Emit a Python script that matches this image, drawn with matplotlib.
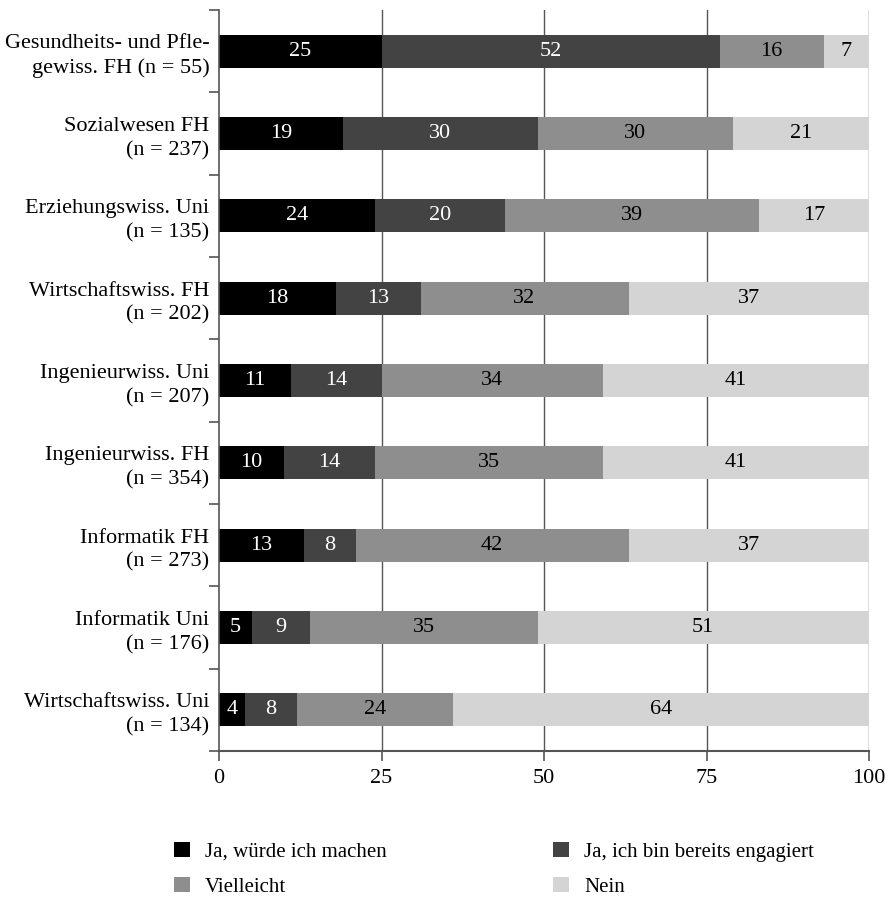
import matplotlib
matplotlib.use("Agg")
import matplotlib.pyplot as plt
import numpy as np
from matplotlib.patches import Patch
from matplotlib.ticker import FixedLocator

categories = [
    "Gesundheits- und Pfle-\ngewiss. FH (n = 55)",
    "Sozialwesen FH\n(n = 237)",
    "Erziehungswiss. Uni\n(n = 135)",
    "Wirtschaftswiss. FH\n(n = 202)",
    "Ingenieurwiss. Uni\n(n = 207)",
    "Ingenieurwiss. FH\n(n = 354)",
    "Informatik FH\n(n = 273)",
    "Informatik Uni\n(n = 176)",
    "Wirtschaftswiss. Uni\n(n = 134)",
]
series_names = ["Ja, würde ich machen", "Ja, ich bin bereits engagiert", "Vielleicht", "Nein"]
ja_machen = [25, 19, 24, 18, 11, 10, 13, 5, 4]
ja_engagiert = [52, 30, 20, 13, 14, 14, 8, 9, 8]
vielleicht = [16, 30, 39, 32, 34, 35, 42, 35, 24]
nein = [7, 21, 17, 37, 41, 41, 37, 51, 64]
x_ticks = [0, 25, 50, 75, 100]

colors = ["#000000", "#434343", "#8e8e8e", "#d4d4d4"]
text_colors = ["white", "white", "black", "black"]

plt.rcParams['font.family'] = ['Liberation Serif', 'DejaVu Serif']
fs = 16
fs_leg = 15

fig = plt.figure(figsize=(8.89, 8.99), dpi=100)
ax = fig.add_axes([219/889, 1 - 751/899, 650/889, 741/899])

n = len(categories)
y = np.arange(n)
left = np.zeros(n)
for vals, col, tc, name in zip([ja_machen, ja_engagiert, vielleicht, nein], colors, text_colors, series_names):
    vals = np.array(vals, dtype=float)
    bars = ax.barh(y, vals, left=left, height=0.4, color=col, label=name, zorder=2)
    for b, v in zip(bars, vals):
        ax.text(b.get_x() + b.get_width() / 2, b.get_y() + b.get_height() / 2, f"{int(v)}",
                ha='center', va='center', color=tc, fontsize=fs, zorder=3)
    left += vals

ax.set_xlim(0, 100)
ax.set_ylim(n - 0.5, -0.5)
ax.set_xticks(x_ticks)
ax.set_xticklabels([str(t) for t in x_ticks], fontsize=fs)
ax.set_yticks(y)
ax.set_yticklabels(categories, fontsize=fs, linespacing=1.35)
ax.yaxis.set_minor_locator(FixedLocator(np.arange(-0.5, n, 1.0)))
ax.tick_params(axis='y', which='major', length=0, pad=7)
ax.tick_params(axis='y', which='minor', length=7, width=1.2, color='#555555', direction='out')
ax.tick_params(axis='x', which='major', length=7, width=1.2, color='#555555', direction='out', pad=6)

for xt in x_ticks[1:]:
    ax.axvline(xt, color='#555555', lw=1.0, zorder=1)

for s in ['top', 'right']:
    ax.spines[s].set_visible(False)
ax.spines['left'].set_color('#555555')
ax.spines['left'].set_linewidth(1.2)
ax.spines['bottom'].set_color('#555555')
ax.spines['bottom'].set_linewidth(1.5)

handles = [Patch(facecolor=c, edgecolor='none') for c in colors]
order = [0, 2, 1, 3]  # row-major layout in a 2-column legend
fig.legend([handles[i] for i in order], [series_names[i] for i in order],
           loc='upper left', bbox_to_anchor=(155/889, 1 - 823/899),
           ncol=2, frameon=False, fontsize=fs_leg, handlelength=0.77, handleheight=0.77,
           handletextpad=0.72, columnspacing=8.0, labelspacing=0.72)

fig.savefig("out.png", dpi=100)
